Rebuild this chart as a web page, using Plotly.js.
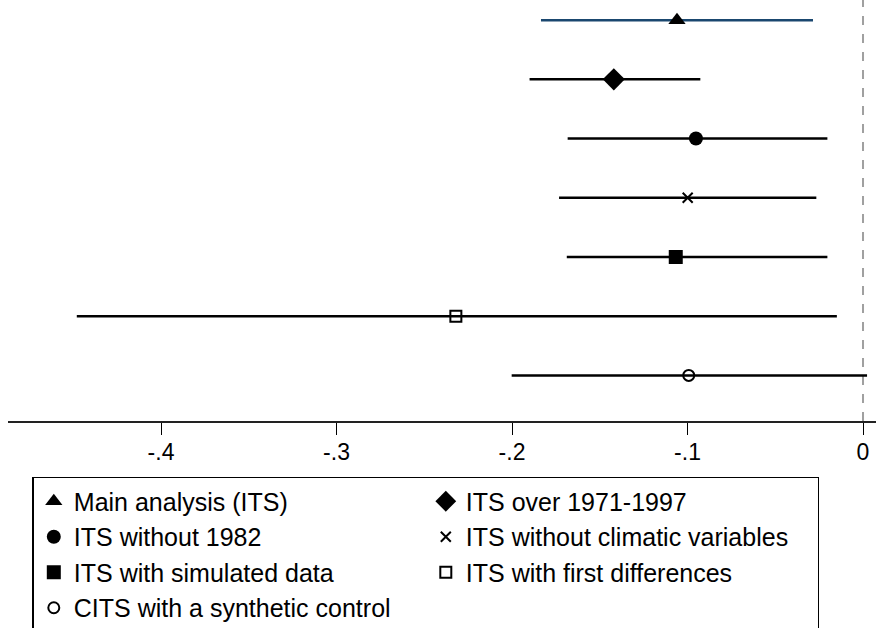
<!DOCTYPE html>
<html>
<head>
<meta charset="utf-8">
<script src="https://cdn.plot.ly/plotly-3.0.1.min.js"></script>
<style>html,body{margin:0;padding:0;background:#fff;}#chart{width:876px;height:628px;}</style>
</head>
<body>
<div id="chart"></div>
<script>
// Models (top to bottom)
const labels = [
  "Main analysis (ITS)",
  "ITS over 1971-1997",
  "ITS without 1982",
  "ITS without climatic variables",
  "ITS with simulated data",
  "ITS with first differences",
  "CITS with a synthetic control"
];
const estimates = [-0.106, -0.142, -0.0952, -0.0999, -0.1067, -0.232, -0.0993];
const ciLow     = [-0.1835, -0.190, -0.1683, -0.1732, -0.1688, -0.448, -0.2002];
const ciHigh    = [-0.0285, -0.0927, -0.0203, -0.0266, -0.0203, -0.0149, 0.0023];
const rowPos    = [1, 2, 3, 4, 5, 6, 7];
const tickVals  = [-0.4, -0.3, -0.2, -0.1, 0];
const tickText  = ["-.4", "-.3", "-.2", "-.1", "0"];
const refValue  = 0;

const symbols = ["triangle-up", "diamond", "circle", "x-thin-open", "square", "square-open", "circle-open"];
const sizes   = [15, 17, 14, 10, 14, 11, 11];
const lineColors = ["#1a476f", "#000", "#000", "#000", "#000", "#000", "#000"];

const traces = labels.map((lab, i) => ({
  type: "scatter",
  mode: "markers",
  name: lab,
  x: [estimates[i]],
  y: [rowPos[i]],
  error_x: {
    type: "data",
    symmetric: false,
    array: [ciHigh[i] - estimates[i]],
    arrayminus: [estimates[i] - ciLow[i]],
    width: 0,
    thickness: 2.5,
    color: lineColors[i]
  },
  marker: {
    symbol: symbols[i],
    size: sizes[i],
    color: "#000",
    line: {color: "#000", width: symbols[i].indexOf("open") >= 0 ? 2 : 0}
  },
  hoverinfo: "x+name"
}));

const layout = {
  width: 876, height: 628,
  margin: {l: 8, r: 0, t: 0, b: 207, autoexpand: false},
  paper_bgcolor: "#fff",
  plot_bgcolor: "#fff",
  font: {family: "Liberation Sans, Arial, sans-serif", color: "#000"},
  showlegend: true,
  xaxis: {
    range: [-0.4872, 0.0074],
    tickvals: tickVals,
    ticktext: tickText,
    ticks: "outside",
    ticklen: 12,
    tickwidth: 1,
    tickcolor: "#000",
    tickfont: {size: 23, color: "#000"},
    ticklabelstandoff: -3,
    showgrid: false,
    zeroline: false,
    showline: true,
    linecolor: "#222",
    linewidth: 2,
    automargin: false
  },
  yaxis: {
    range: [7.77, 0.66],
    showgrid: false,
    zeroline: false,
    showline: false,
    showticklabels: false,
    ticks: "",
    automargin: false
  },
  shapes: [{
    type: "line", xref: "x", yref: "paper",
    x0: refValue, x1: refValue, y0: 0, y1: 1,
    line: {color: "#a0a0a0", width: 2, dash: "dash"},
    layer: "below"
  }],
  legend: {
    orientation: "h",
    x: 0.028, xanchor: "left",
    y: -0.133, yanchor: "top",
    entrywidth: 347,
    entrywidthmode: "pixels",
    bordercolor: "#000",
    borderwidth: 1.5,
    bgcolor: "#fff",
    font: {size: 25, color: "#000"},
    itemwidth: 30,
    tracegroupgap: 0,
    traceorder: "normal"
  }
};

Plotly.newPlot("chart", traces, layout, {displayModeBar: false, staticPlot: true});
</script>
</body>
</html>
